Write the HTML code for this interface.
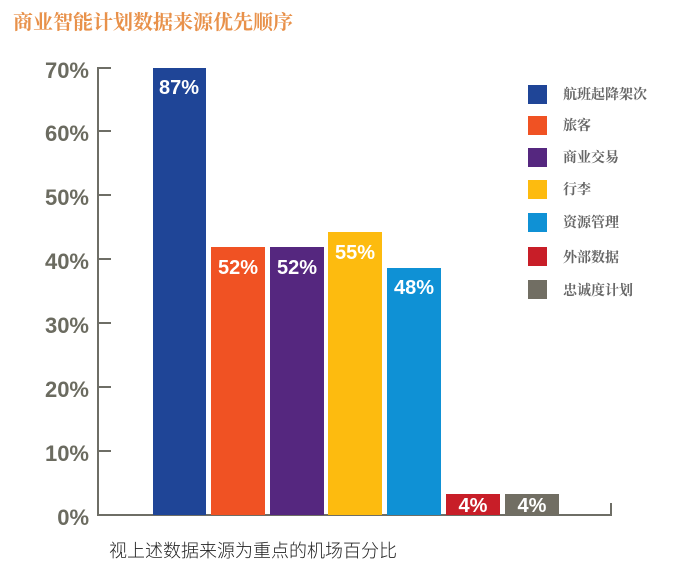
<!DOCTYPE html>
<html><head><meta charset="utf-8"><style>
body{margin:0;background:#fff;width:681px;height:572px;overflow:hidden}
svg text{font-family:"Liberation Sans","Noto Sans CJK SC",sans-serif}
</style></head><body>
<svg width="681" height="572" xmlns="http://www.w3.org/2000/svg">
<text x="13" y="29" font-size="20" font-weight="bold" fill="#e8914a" style="font-family:'Noto Serif CJK SC',serif">商业智能计划数据来源优先顺序</text>
<g stroke="#6e6e66" stroke-width="2" fill="none">
<path d="M111 68H98V515H611V503"/>
<path d="M98 131H111M98 195H111M98 259H111M98 323H111M98 387H111M98 451H111"/>
</g>
<g font-size="22" font-weight="bold" fill="#6b6b60" text-anchor="end">
<text x="89" y="78">70%</text><text x="89" y="141">60%</text><text x="89" y="205">50%</text>
<text x="89" y="269">40%</text><text x="89" y="333">30%</text><text x="89" y="397">20%</text>
<text x="89" y="461">10%</text><text x="89" y="525">0%</text>
</g>
<rect x="153" y="68" width="53" height="447" fill="#1f4597"/>
<rect x="211" y="247" width="54" height="268" fill="#f05223"/>
<rect x="270" y="247" width="54" height="268" fill="#55277f"/>
<rect x="328" y="232" width="54" height="283" fill="#fdbb0f"/>
<rect x="387" y="268" width="54" height="247" fill="#0f91d5"/>
<rect x="446" y="494" width="54" height="21" fill="#c81e28"/>
<rect x="505" y="494" width="54" height="21" fill="#716e63"/>
<g font-size="20" font-weight="bold" fill="#fff" text-anchor="middle">
<text x="179" y="94">87%</text><text x="238" y="274">52%</text><text x="297" y="274">52%</text>
<text x="355" y="259">55%</text><text x="414" y="294">48%</text><text x="473" y="512">4%</text><text x="532" y="512">4%</text>
</g>
<g>
<rect x="528" y="85" width="19" height="19" fill="#1f4597"/>
<rect x="528" y="116" width="19" height="19" fill="#f05223"/>
<rect x="528" y="148" width="19" height="19" fill="#55277f"/>
<rect x="528" y="180" width="19" height="19" fill="#fdbb0f"/>
<rect x="528" y="213" width="19" height="19" fill="#0f91d5"/>
<rect x="528" y="247" width="19" height="19" fill="#c81e28"/>
<rect x="528" y="280" width="19" height="19" fill="#716e63"/>
</g>
<g font-size="14" font-weight="bold" fill="#666" style="font-family:'Noto Serif CJK SC',serif">
<text x="563" y="99" style="font-family:'Noto Serif CJK SC',serif">航班起降架次</text><text x="563" y="130" style="font-family:'Noto Serif CJK SC',serif">旅客</text><text x="563" y="162" style="font-family:'Noto Serif CJK SC',serif">商业交易</text>
<text x="563" y="194" style="font-family:'Noto Serif CJK SC',serif">行李</text><text x="563" y="227" style="font-family:'Noto Serif CJK SC',serif">资源管理</text><text x="563" y="262" style="font-family:'Noto Serif CJK SC',serif">外部数据</text><text x="563" y="295" style="font-family:'Noto Serif CJK SC',serif">忠诚度计划</text>
</g>
<text x="109" y="557" font-size="18" fill="#222" font-weight="300">视上述数据来源为重点的机场百分比</text>
</svg>
</body></html>
